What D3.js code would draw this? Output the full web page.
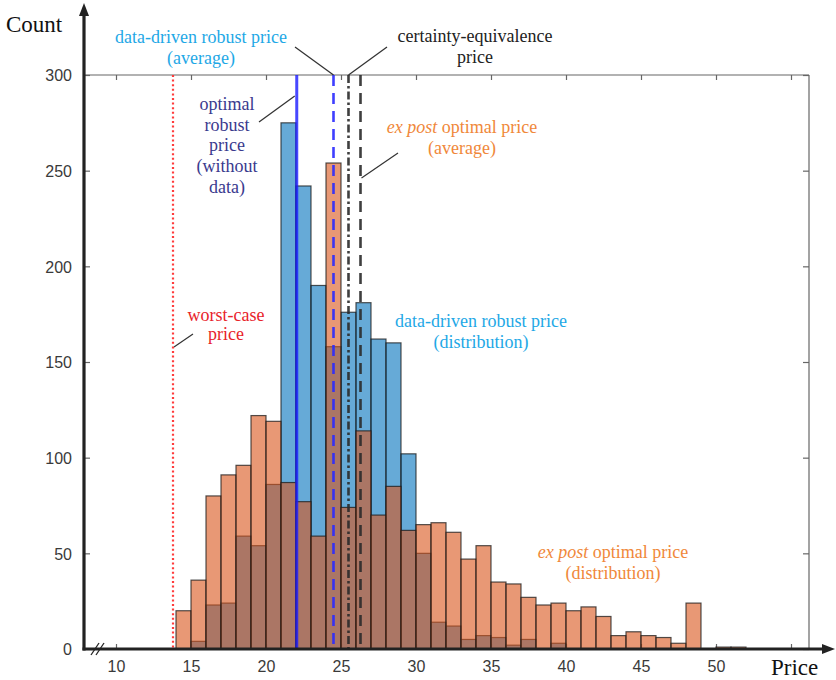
<!DOCTYPE html>
<html>
<head>
<meta charset="utf-8">
<script src="https://cdn.jsdelivr.net/npm/d3@7"></script>
<style>
  html, body { margin: 0; padding: 0; background: #fff; }
  svg { display: block; }
</style>
</head>
<body>
<svg id="chart" width="836" height="680"></svg>
<script>
// Histogram bins: left edge of each unit-width price bin
const binLeft = [14, 15, 16, 17, 18, 19, 20, 21, 22, 23, 24, 25, 26, 27, 28, 29, 30, 31, 32,
                 33, 34, 35, 36, 37, 38, 39, 40, 41, 42, 43, 44, 45, 46, 47, 48, 49, 50, 51];
// Data-driven robust price (distribution)
const robustCounts = [0, 4, 23, 24, 59, 54, 86, 275, 242, 190, 158, 176, 181, 162, 160, 102, 50, 14, 12,
                      5, 7, 6, 2, 5, 0, 3, 0, 0, 0, 0, 0, 0, 0, 0, 0, 0, 0, 0];
// Ex post optimal price (distribution)
const expostCounts = [20, 36, 80, 91, 96, 122, 119, 87, 77, 59, 254, 74, 114, 70, 85, 62, 65, 66, 61,
                      47, 54, 35, 34, 27, 23, 24, 20, 22, 17, 7, 9, 7, 6, 3, 24, 0, 1, 1];

// Reference prices drawn as vertical lines
const refNames  = ["worst-case", "optimal robust", "data-driven average", "certainty-equivalence", "ex post average"];
const refPrices = [13.8, 22.05, 24.5, 25.5, 26.3];

const xTicks = [10, 15, 20, 25, 30, 35, 40, 45, 50, 55];
const xTickLabels = ["10", "15", "20", "25", "30", "35", "40", "45", "50", ""];
const yTicks = [0, 50, 100, 150, 200, 250, 300];

const svg = d3.select("#chart");
const x = d3.scaleLinear().domain([10, 55]).range([116, 791]);
const y = d3.scaleLinear().domain([0, 300]).range([649, 75]);
const xLeft = 84, xRight = 809;

const serif = "'Liberation Serif', 'Times New Roman', serif";
const sans = "'Liberation Sans', Arial, sans-serif";

// Top and right frame lines
svg.append("line").attr("x1", xLeft).attr("x2", xRight).attr("y1", y(300)).attr("y2", y(300))
  .attr("stroke", "#666").attr("stroke-width", 1.2);
svg.append("line").attr("x1", xRight).attr("x2", xRight).attr("y1", y(300)).attr("y2", y(0))
  .attr("stroke", "#666").attr("stroke-width", 1.2);

// Tick marks on all four sides (labels only bottom and left)
const bottomAxis = svg.append("g").attr("transform", `translate(0,${y(0)})`)
  .call(d3.axisBottom(x).tickValues(xTicks).tickSize(-5).tickPadding(12)
    .tickFormat((d, i) => xTickLabels[i]));
const topAxis = svg.append("g").attr("transform", `translate(0,${y(300)})`)
  .call(d3.axisTop(x).tickValues(xTicks).tickSize(-5).tickFormat(""));
const leftAxis = svg.append("g").attr("transform", `translate(${xLeft},0)`)
  .call(d3.axisLeft(y).tickValues(yTicks).tickSize(-6).tickPadding(12).tickFormat(d3.format("d")));
const rightAxis = svg.append("g").attr("transform", `translate(${xRight},0)`)
  .call(d3.axisRight(y).tickValues(yTicks).tickSize(-6).tickFormat(""));
[bottomAxis, topAxis, leftAxis, rightAxis].forEach(g => {
  g.select(".domain").remove();
  g.selectAll(".tick line").attr("stroke", "#666").attr("stroke-width", 1.2);
  g.selectAll(".tick text").attr("fill", "#3a3a3a").style("font-family", sans).style("font-size", "16px");
});
leftAxis.selectAll(".tick text").attr("dy", "0.36em");

// Histogram bars: robust first, ex post on top, both semi-transparent
const bars = svg.append("g");
function drawBars(counts, color) {
  bars.append("g").selectAll("rect")
    .data(binLeft.map((b, i) => ({ b, c: counts[i] })).filter(d => d.c > 0))
    .join("rect")
    .attr("x", d => x(d.b))
    .attr("width", d => x(d.b + 1) - x(d.b))
    .attr("y", d => y(d.c))
    .attr("height", d => y(0) - y(d.c))
    .attr("fill", color).attr("fill-opacity", 0.6)
    .attr("stroke", "#1a1a1a").attr("stroke-opacity", 0.75).attr("stroke-width", 1.2);
}
drawBars(robustCounts, "#0072BD");
drawBars(expostCounts, "#D95319");

// Vertical reference lines
const refStyle = {
  "worst-case":            { color: "#ff3b3b", width: 2.2, dash: "2,2.6", opacity: 1 },
  "optimal robust":        { color: "#1a1aff", width: 3,   dash: null,    opacity: 0.8 },
  "data-driven average":   { color: "#2a2aff", width: 2.6, dash: "11,7",  opacity: 0.9 },
  "certainty-equivalence": { color: "#2a2a2a", width: 2.6, dash: "8,3,2.5,3", opacity: 0.9 },
  "ex post average":       { color: "#2a2a2a", width: 2.6, dash: "11,7",  opacity: 0.9 }
};
svg.append("g").selectAll("line")
  .data(refNames.map((n, i) => ({ n, p: refPrices[i] })))
  .join("line")
  .attr("x1", d => x(d.p)).attr("x2", d => x(d.p))
  .attr("y1", y(300)).attr("y2", y(0))
  .attr("stroke", d => refStyle[d.n].color)
  .attr("stroke-width", d => refStyle[d.n].width)
  .attr("stroke-dasharray", d => refStyle[d.n].dash)
  .attr("stroke-opacity", d => refStyle[d.n].opacity);

// Main axes: heavy lines with arrowheads
const axisColor = "#222";
svg.append("line").attr("x1", xLeft).attr("x2", xLeft).attr("y1", y(0) + 1.5).attr("y2", 12)
  .attr("stroke", axisColor).attr("stroke-width", 3.2);
svg.append("path").attr("d", `M${xLeft},3 L${xLeft - 5},16 L${xLeft + 5},16 Z`).attr("fill", axisColor);
svg.append("line").attr("x1", xLeft - 1.5).attr("x2", 826).attr("y1", y(0)).attr("y2", y(0))
  .attr("stroke", axisColor).attr("stroke-width", 3.2);
svg.append("path").attr("d", `M835,${y(0)} L822,${y(0) - 5} L822,${y(0) + 5} Z`).attr("fill", axisColor);

// Axis break mark
svg.append("g").selectAll("line").data([0, 5]).join("line")
  .attr("x1", d => 91 + d).attr("y1", y(0) + 6)
  .attr("x2", d => 99 + d).attr("y2", y(0) - 6)
  .attr("stroke", axisColor).attr("stroke-width", 1.3);

// Axis titles
svg.append("text").attr("x", 6).attr("y", 32).text("Count")
  .style("font-family", serif).style("font-size", "23px").attr("fill", "#111");
svg.append("text").attr("x", 771).attr("y", 675).text("Price")
  .style("font-family", serif).style("font-size", "23px").attr("fill", "#111");

// Annotations
const ann = svg.append("g").style("font-family", serif).style("font-size", "18px")
  .attr("text-anchor", "middle");
function label(lines, cx, y0, color, step = 20.5) {
  const t = ann.append("text").attr("fill", color);
  lines.forEach((ln, i) => {
    const row = t.append("tspan").attr("x", cx).attr("y", y0 + i * step);
    (Array.isArray(ln) ? ln : [[ln, false]]).forEach(([s, it]) => {
      row.append("tspan").text(s).style("font-style", it ? "italic" : "normal");
    });
  });
}
const cBlue = "#1ea8e6", cOrange = "#f0883a", cRed = "#e8232b", cNavy = "#3a3a8e", cBlack = "#222";
label(["data-driven robust price", "(average)"], 201, 43, cBlue);
label(["certainty-equivalence", "price"], 475, 42, cBlack);
label(["optimal", "robust", "price", "(without", "data)"], 227, 110, cNavy, 20.7);
label([[["ex post", true], [" optimal price", false]], "(average)"], 462, 133, cOrange);
label(["worst-case", "price"], 226, 321, cRed, 19);
label(["data-driven robust price", "(distribution)"], 481, 327, cBlue);
label([[["ex post", true], [" optimal price", false]], "(distribution)"], 613, 558, cOrange, 21);

// Leader lines from labels to the reference lines
const leaders = [
  [295, 47, x(24.5), y(300)],
  [387, 47, x(25.5), y(300)],
  [259, 122, x(22.05) - 2, 96],
  [398, 153, x(26.3) + 1, 178],
  [193, 334, x(13.8) + 1, 347]
];
svg.append("g").selectAll("line").data(leaders).join("line")
  .attr("x1", d => d[0]).attr("y1", d => d[1]).attr("x2", d => d[2]).attr("y2", d => d[3])
  .attr("stroke", "#333").attr("stroke-width", 1.2);
</script>
</body>
</html>
